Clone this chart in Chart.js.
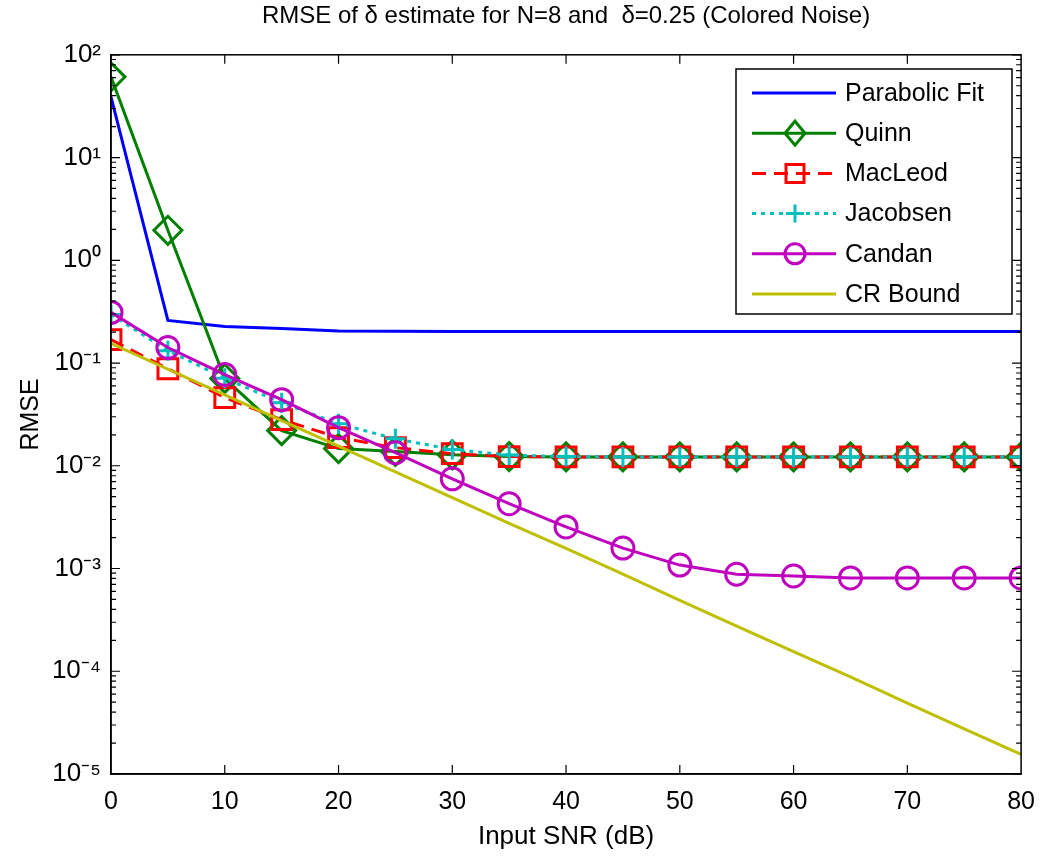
<!DOCTYPE html>
<html>
<head>
<meta charset="utf-8">
<script src="https://cdn.jsdelivr.net/npm/chart.js@4.4.0/dist/chart.umd.min.js"></script>
<style>
  body { margin: 0; background: #fff; }
  canvas { display: block; }
</style>
</head>
<body>
<canvas id="myChart" width="1048" height="859"></canvas>
<script>
const snr = [0, 5, 10, 15, 20, 25, 30, 35, 40, 45, 50, 55, 60, 65, 70, 75, 80];
const parabolicFit = [39, 0.26, 0.227, 0.217, 0.205, 0.204, 0.203, 0.203, 0.203, 0.203, 0.203, 0.203, 0.203, 0.203, 0.203, 0.203, 0.203];
const quinn = [61, 1.96, 0.0706, 0.022, 0.0147, 0.0138, 0.0128, 0.0123, 0.0122, 0.0122, 0.0122, 0.0122, 0.0122, 0.0122, 0.0122, 0.0122, 0.0122];
const macLeod = [0.169, 0.088, 0.046, 0.0281, 0.0188, 0.015, 0.0131, 0.0123, 0.0122, 0.0122, 0.0122, 0.0122, 0.0122, 0.0122, 0.0122, 0.0122, 0.0122];
const jacobsen = [0.297, 0.132, 0.071, 0.041, 0.0257, 0.0183, 0.0144, 0.0127, 0.0123, 0.0122, 0.0122, 0.0122, 0.0122, 0.0122, 0.0122, 0.0122, 0.0122];
const candan = [0.311, 0.1415, 0.0773, 0.044, 0.0235, 0.0134, 0.00747, 0.00427, 0.00254, 0.00158, 0.00108, 0.00088, 0.000845, 0.00081, 0.00081, 0.00081, 0.00081];
const crBound = [0.155, 0.087, 0.049, 0.0275, 0.0155, 0.0087, 0.0049, 0.00275, 0.00157, 0.00088, 0.00049, 0.000275, 0.000155, 0.000088, 0.000049, 0.0000275, 0.0000155];
const xTicks = [0, 10, 20, 30, 40, 50, 60, 70, 80];
const yDecades = [-5, -4, -3, -2, -1, 0, 1, 2];

const FONT = "'Liberation Sans', Arial, sans-serif";
const sup = { '-': '\u207B', '0': '\u2070', '1': '\u00B9', '2': '\u00B2', '3': '\u00B3', '4': '\u2074', '5': '\u2075' };

function pts(values) {
    return snr.map((x, i) => ({ x: x, y: values[i] }));
}

const series = [
    { label: 'Parabolic Fit', data: parabolicFit, color: '#0000ff', dash: [], marker: false },
    { label: 'Quinn', data: quinn, color: '#008000', dash: [], marker: 'rectRot' },
    { label: 'MacLeod', data: macLeod, color: '#ff0000', dash: [14, 8], marker: 'rect' },
    { label: 'Jacobsen', data: jacobsen, color: '#00bfbf', dash: [4, 5], marker: 'cross' },
    { label: 'Candan', data: candan, color: '#bf00bf', dash: [], marker: 'circle' },
    { label: 'CR Bound', data: crBound, color: '#bfbf00', dash: [], marker: false }
];
const markerSize = { rectRot: 14, rect: 14, cross: 10, circle: 11 };

const datasets = series.map((s, i) => ({
    label: s.label,
    data: pts(s.data),
    borderColor: s.color,
    borderWidth: 3,
    borderDash: s.dash,
    tension: 0,
    fill: false,
    order: series.length - i,
    pointStyle: s.marker || 'circle',
    pointRadius: s.marker ? markerSize[s.marker] : 0,
    pointBorderColor: s.color,
    pointBackgroundColor: 'rgba(0,0,0,0)',
    pointBorderWidth: 3
}));

// box, inward ticks and legend like the matlab figure
const framePlugin = {
    id: 'frame',
    afterDraw(chart) {
        const ctx = chart.ctx;
        const a = chart.chartArea;
        const xs = chart.scales.x, ys = chart.scales.y;
        ctx.save();
        ctx.strokeStyle = '#000';
        ctx.lineWidth = 1.5;
        ctx.setLineDash([]);
        ctx.strokeRect(a.left, a.top, a.right - a.left, a.bottom - a.top);
        ctx.lineWidth = 1.2;
        ctx.beginPath();
        xTicks.slice(1, -1).forEach(v => {
            const px = xs.getPixelForValue(v);
            ctx.moveTo(px, a.bottom); ctx.lineTo(px, a.bottom - 9);
            ctx.moveTo(px, a.top); ctx.lineTo(px, a.top + 9);
        });
        yDecades.forEach(d => {
            const py = ys.getPixelForValue(Math.pow(10, d));
            ctx.moveTo(a.left, py); ctx.lineTo(a.left + 9, py);
            ctx.moveTo(a.right, py); ctx.lineTo(a.right - 9, py);
            if (d < 2) {
                for (let k = 2; k < 10; k++) {
                    const pm = ys.getPixelForValue(k * Math.pow(10, d));
                    ctx.moveTo(a.left, pm); ctx.lineTo(a.left + 5, pm);
                    ctx.moveTo(a.right, pm); ctx.lineTo(a.right - 5, pm);
                }
            }
        });
        ctx.stroke();

        // legend
        const lx = 736, ly = 69, lw = 276, lh = 245;
        ctx.fillStyle = '#fff';
        ctx.fillRect(lx, ly, lw, lh);
        ctx.lineWidth = 1.5;
        ctx.strokeRect(lx, ly, lw, lh);
        ctx.font = '25px ' + FONT;
        ctx.textBaseline = 'middle';
        series.forEach((s, i) => {
            const y = 93 + i * 40.2;
            ctx.strokeStyle = s.color;
            ctx.lineWidth = 3;
            ctx.setLineDash(s.dash);
            ctx.beginPath();
            ctx.moveTo(752, y); ctx.lineTo(836, y);
            ctx.stroke();
            ctx.setLineDash([]);
            const cx = 795;
            ctx.beginPath();
            if (s.marker === 'rectRot') {
                ctx.moveTo(cx, y - 12); ctx.lineTo(cx + 10, y); ctx.lineTo(cx, y + 12); ctx.lineTo(cx - 10, y); ctx.closePath();
            } else if (s.marker === 'rect') {
                ctx.rect(cx - 9, y - 9, 18, 18);
            } else if (s.marker === 'cross') {
                ctx.moveTo(cx - 9, y); ctx.lineTo(cx + 9, y); ctx.moveTo(cx, y - 9); ctx.lineTo(cx, y + 9);
            } else if (s.marker === 'circle') {
                ctx.arc(cx, y, 10, 0, Math.PI * 2);
            }
            ctx.stroke();
            ctx.fillStyle = '#000';
            ctx.fillText(s.label, 845, y + 1);
        });
        ctx.restore();
    }
};

const ctx = document.getElementById('myChart').getContext('2d');
const myChart = new Chart(ctx, {
    type: 'line',
    data: { datasets: datasets },
    plugins: [framePlugin],
    options: {
        responsive: false,
        animation: false,
        devicePixelRatio: 1,
        layout: { padding: { left: 0, right: 25, top: 0, bottom: 0 } },
        plugins: {
            legend: { display: false },
            tooltip: { enabled: false },
            title: {
                display: true,
                fullSize: false,
                text: 'RMSE of \u03B4 estimate for N=8 and  \u03B4=0.25 (Colored Noise)',
                color: '#000',
                font: { family: FONT, size: 24, weight: 'normal' },
                padding: { top: 2, bottom: 24 }
            }
        },
        scales: {
            x: {
                type: 'linear',
                min: 0,
                max: 80,
                afterBuildTicks: scale => { scale.ticks = xTicks.map(v => ({ value: v })); },
                afterFit: scale => { scale.height = 85; },
                grid: { display: false, drawTicks: false },
                border: { display: true, color: '#000', width: 1.5 },
                ticks: {
                    color: '#000',
                    padding: 13,
                    maxRotation: 0,
                    font: { family: FONT, size: 25 }
                },
                title: {
                    display: true,
                    text: 'Input SNR (dB)',
                    color: '#000',
                    font: { family: FONT, size: 26 },
                    padding: { top: 0, bottom: 7 }
                }
            },
            y: {
                type: 'logarithmic',
                min: 1e-5,
                max: 100,
                afterBuildTicks: scale => { scale.ticks = yDecades.map(d => ({ value: Math.pow(10, d) })); },
                afterFit: scale => { scale.width = 111; },
                grid: { display: false, drawTicks: false },
                border: { display: true, color: '#000', width: 1.5 },
                ticks: {
                    color: '#000',
                    padding: 10,
                    font: { family: FONT, size: 26 },
                    callback: value => {
                        const e = String(Math.round(Math.log10(value)));
                        return '10' + e.split('').map(c => sup[c]).join('');
                    }
                },
                title: {
                    display: true,
                    text: 'RMSE',
                    color: '#000',
                    font: { family: FONT, size: 25 },
                    padding: { top: 16, bottom: 0 }
                }
            }
        }
    }
});
</script>
</body>
</html>
